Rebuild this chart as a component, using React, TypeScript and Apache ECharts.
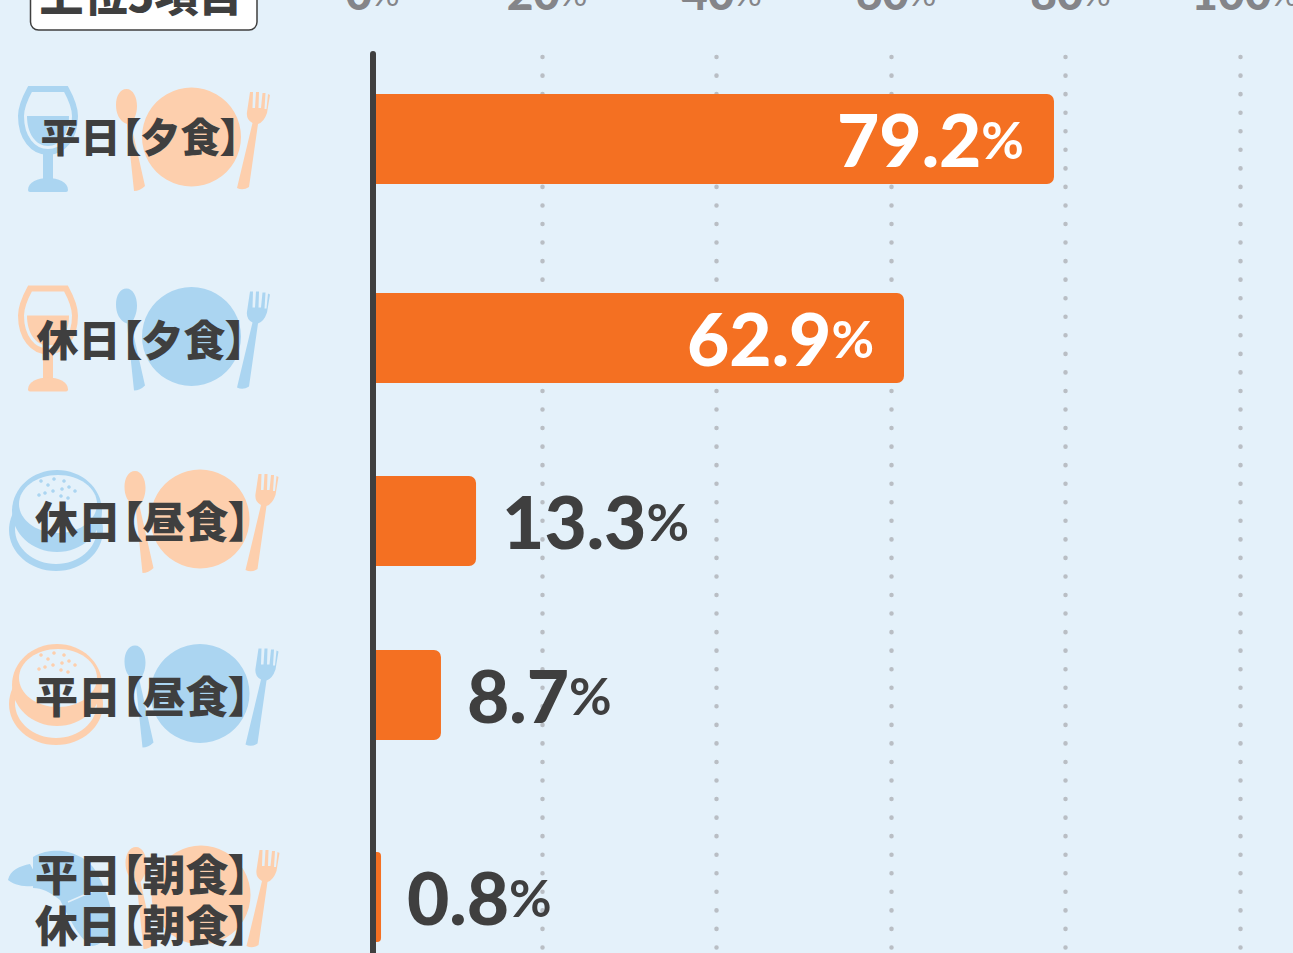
import React, { useEffect, useRef } from "react";
import * as echarts from "echarts";

const categories = ["平日【夕食】", "休日【夕食】", "休日【昼食】", "平日【昼食】", "平日【朝食】\n休日【朝食】"];
// Printed percentages
const valueLabels = ["79.2", "62.9", "13.3", "8.7", "0.8"];
// Bar lengths as measured against the dotted axis in the picture (they differ slightly from the printed figures)
const barLengths = [78.68, 61.49, 12.44, 8.42, 1.55];
const tickValues = [0, 20, 40, 60, 80, 100];
const heading = "上位5項目";

const BG = "#E4F1FA", BLUE = "#ABD5F1", PEACH = "#FDCFAD", DARK = "#3F3F3F", ORANGE = "#F47022", GREY = "#848589";
const LATIN = "Lato, 'Noto Sans', sans-serif";
const CJK = "'Noto Sans CJK JP', sans-serif";

const rowTops = [94, 293, 476, 650, 852];
const labelMargins = [232, 231, 230, 230, 230];
const labelLifts = [9, 2, 4, 2, 0];
const labelSizes = [40, 42, 43, 43, 43];
const BAR_H = 90;
const AXIS_LEFT = 367.5, PX_PER_PCT = 8.725, LINE_X = 372.5;

const reg = (n: string, d: string) => echarts.graphic.registerShape(n, echarts.graphic.extendPath(d, {}) as any);
reg("spoonIcon", "M126.5 89 C133 89 137 97 137 106 C137 114 134 120 131 124 L145 186 Q140 191 134 191 L127 124 C119 121 116 113 116 105 C116 96 120 89 126.5 89 Z");
reg("forkIcon", "M247 112 L250 92 L253 92 L252.5 108 L255 108 L256 92 L259 92 L258.5 108 L261 108 L262.5 93 L265.5 93 L264.5 109 L266.5 109 L268 94 L270 95 L267 113 Q264 122 258 124 L249 187 Q243 191 237 188 L252.5 123 Q246 120 247 112 Z");
reg("bowlIcon", "M30 89 L66 89 C72 100 75 108 75 116 C75 138 63 152 48 152 C33 152 21 138 21 116 C21 108 24 100 30 89 Z");
reg("wineIcon", "M27 116 L69 116 C69 134 60 146 48 146 C36 146 27 134 27 116 Z");
reg("baseIcon", "M28 190 C28 182 38 178 48 178 C58 178 68 182 68 190 Q68 192 66 192 L30 192 Q28 192 28 190 Z");
reg("croissantIcon", "M33 857 C45 850 58 850 68 852 C82 856 90 862 95 870 C104 885 112 905 113 925 C108 940 100 945 92 946 C80 940 70 920 60 900 C50 892 42 888 33 888 Z");
reg("hornIcon", "M8 880 C10 870 20 866 30 864 L42 886 C30 886 18 888 8 880 Z");

const place = (b: string, dx: number, dy: number) => [
  { type: "circle", shape: { cx: 191.5 + dx, cy: 137 + dy, r: 49.5 }, style: { fill: b } },
  { type: "spoonIcon", x: dx, y: dy, style: { fill: b } },
  { type: "forkIcon", x: dx, y: dy, style: { fill: b } },
];
const glass = (c: string, dy: number) => [
  { type: "bowlIcon", x: 0, y: dy, style: { fill: "none", stroke: c, lineWidth: 6 } },
  { type: "wineIcon", x: 0, y: dy, style: { fill: c } },
  { type: "rect", shape: { x: 43, y: 150 + dy, width: 10, height: 32 }, style: { fill: c } },
  { type: "baseIcon", x: 0, y: dy, style: { fill: c } },
];
const sesame = [[41, 16], [48, 20], [54, 14], [64, 16], [69, 22], [75, 26], [62, 24], [53, 26], [45, 28], [39, 30], [61, 31], [68, 33]];
const burger = (c: string, top: number) => [
  { type: "ellipse", shape: { cx: 56, cy: top + 60, rx: 47, ry: 41 }, style: { fill: c } },
  { type: "ellipse", shape: { cx: 56, cy: top + 59, rx: 41, ry: 35 }, style: { fill: BG } },
  { type: "ellipse", shape: { cx: 57, cy: top + 41, rx: 45, ry: 41 }, style: { fill: c } },
  { type: "ellipse", shape: { cx: 58, cy: top + 34, rx: 39, ry: 29 }, style: { fill: BG } },
  ...sesame.map(([x, y]) => ({ type: "circle", shape: { cx: x, cy: top + y - 5, r: 1.8 }, style: { fill: c } })),
];

const option: any = {
  animation: false,
  backgroundColor: BG,
  graphic: { elements: [
    { type: "rect", shape: { x: 30.5, y: -30, width: 226.5, height: 60, r: 8 }, style: { fill: "#fff", stroke: DARK, lineWidth: 1.5 } },
    { type: "text", x: 141, y: -7, style: { text: heading, fill: DARK, font: `900 44px ${CJK}`, align: "center", verticalAlign: "middle" } },
    ...glass(BLUE, 0), ...place(PEACH, 0, 0),
    ...glass(PEACH, 199.5), ...place(BLUE, 0, 199.5),
    ...burger(BLUE, 470), ...place(PEACH, 8.5, 382),
    ...burger(PEACH, 644), ...place(BLUE, 8.5, 556.5),
    { type: "croissantIcon", x: 0, y: 0, style: { fill: BLUE } },
    { type: "hornIcon", x: 0, y: 0, style: { fill: BLUE } },
    { type: "polyline", shape: { points: [[68, 902], [100, 888]] }, style: { stroke: BG, lineWidth: 1.5, fill: "none" } },
    ...place(PEACH, 9.5, 758),
  ] },
  grid: [
    { left: AXIS_LEFT, width: PX_PER_PCT * 100, top: 54, height: 960, outerBoundsMode: "none" },
    ...rowTops.map((t) => ({ left: LINE_X, width: AXIS_LEFT + PX_PER_PCT * 100 - LINE_X, top: t, height: BAR_H, outerBoundsMode: "none" })),
  ],
  xAxis: [
    {
      gridIndex: 0, type: "value", position: "top", min: tickValues[0], max: tickValues[5], interval: tickValues[1],
      axisLine: { show: false }, axisTick: { show: false },
      splitLine: { show: true, showMinLine: false, lineStyle: { color: "#B9BEC4", width: 4.5, type: [0.1, 18.45], cap: "round", dashOffset: -3 } },
      axisLabel: {
        margin: 39, padding: [0, 0, 0, 10], hideOverlap: false, showMaxLabel: true, showMinLabel: true,
        formatter: (v: number) => `{n|${v}}{p|%}`,
        rich: {
          n: { fontFamily: LATIN, fontWeight: 900, fontSize: 46, color: GREY },
          p: { fontFamily: LATIN, fontWeight: 400, fontSize: 34, color: GREY },
        },
      },
    },
    ...rowTops.map((_, i) => ({
      gridIndex: i + 1, type: "value", show: false,
      min: (LINE_X - AXIS_LEFT) / PX_PER_PCT, max: 100,
    })),
  ],
  yAxis: [
    {
      gridIndex: 0, type: "value", min: 0, max: 1, offset: -5, z: 6,
      axisLine: { show: true, onZero: false, lineStyle: { color: DARK, width: 6, cap: "round" } },
      axisTick: { show: false }, axisLabel: { show: false }, splitLine: { show: false },
    },
    ...categories.map((c, i) => ({
      gridIndex: i + 1, type: "category", data: [c], z: 6,
      axisLine: { show: false }, axisTick: { show: false }, splitLine: { show: false },
      axisLabel: {
        margin: labelMargins[i], align: "center", color: DARK, fontFamily: CJK, fontWeight: 900, fontSize: labelSizes[i],
        lineHeight: i === 4 ? 51 : labelLifts[i],
        verticalAlign: i === 4 ? "middle" : "bottom",
      },
    })),
  ],
  series: categories.map((c, i) => {
    const inside = i < 2;
    const col = inside ? "#fff" : DARK;
    return {
      type: "bar", name: c, xAxisIndex: i + 1, yAxisIndex: i + 1, barWidth: BAR_H,
      itemStyle: { color: ORANGE, borderRadius: i === 4 ? [0, 4, 4, 0] : [0, 7, 7, 0] },
      data: [{
        value: barLengths[i],
        label: {
          show: true, position: inside ? "insideRight" : "right", distance: inside ? 30 : 26,
          formatter: () => `{n|${valueLabels[i]}}{p|%}`,
          rich: {
            n: { fontFamily: LATIN, fontWeight: 900, fontSize: 73, color: col },
            p: { fontFamily: LATIN, fontWeight: 700, fontSize: 52, color: col },
          },
        },
      }],
    };
  }),
};

export default function App() {
  const ref = useRef<HTMLDivElement>(null);
  useEffect(() => {
    document.body.style.margin = "0";
    const chart = echarts.init(ref.current!, undefined, { renderer: "svg" });
    chart.setOption(option);
    return () => chart.dispose();
  }, []);
  return <div ref={ref} style={{ width: 1293, height: 953, overflow: "hidden", fontFeatureSettings: '"palt"' }} />;
}
